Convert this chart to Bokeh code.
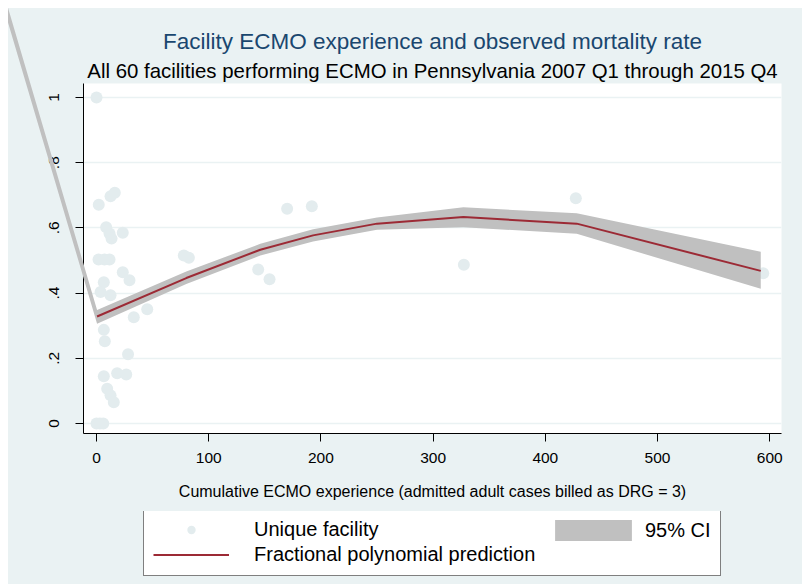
from bokeh.plotting import figure
from bokeh.layouts import column
from bokeh.models import Range1d, FixedTicker, Title, Legend, LegendItem
from bokeh.embed import file_html
from bokeh.resources import INLINE

# ---------------- data ----------------
# Facility scatter: cumulative ECMO experience vs observed mortality
fac_x = [0, 2, 12.5, 16.3, 8.6, 11.6, 13.4, 23.4, 1.8, 7.1, 11.6, 23.4, 29.4,
         6.5, 3.6, 12.5, 33.2, 45.2, 6.5, 7.4, 28.1, 6.5, 18.4, 26.5, 9.5,
         12.5, 15.4, 0, 3, 6, 77.8, 82.3, 144.1, 154.2, 169.9, 191.9, 327.4,
         427.2, 594.2]
fac_y = [1.0, 0.671, 0.697, 0.708, 0.602, 0.583, 0.567, 0.585, 0.503, 0.503,
         0.503, 0.464, 0.439, 0.433, 0.403, 0.393, 0.326, 0.350, 0.287, 0.252,
         0.212, 0.145, 0.154, 0.150, 0.106, 0.086, 0.065, 0.0, 0.0, 0.0, 0.515,
         0.508, 0.472, 0.442, 0.659, 0.666, 0.487, 0.691, 0.461]

# Fractional polynomial prediction
fit_x = [0.5, 80, 146, 193, 250, 327, 428, 592]
fit_y = [0.328, 0.446, 0.533, 0.577, 0.613, 0.633, 0.613, 0.468]

# 95% CI (first point lies far outside the plotted region)
ci_x = [-81, 0.5, 80, 146, 193, 250, 327, 428, 592]
ci_lo = [1.255, 0.306, 0.428, 0.515, 0.558, 0.594, 0.602, 0.582, 0.413]
ci_hi = [1.300, 0.348, 0.466, 0.551, 0.596, 0.632, 0.663, 0.645, 0.527]

x_ticks = [0, 100, 200, 300, 400, 500, 600]
y_ticks = [0, 0.2, 0.4, 0.6, 0.8, 1]
y_tick_labels = ["0", ".2", ".4", ".6", ".8", "1"]

title_text = "Facility ECMO experience and observed mortality rate"
subtitle_text = "All 60 facilities performing ECMO in Pennsylvania 2007 Q1 through 2015 Q4"
x_label = "Cumulative ECMO experience (admitted adult cases billed as DRG = 3)"
legend_labels = ["Unique facility", "95% CI", "Fractional polynomial prediction"]

FONT = "Liberation Sans"
BG = "#eaf2f3"
PT_COLOR = "#e3ecee"
CI_COLOR = "#c0c0c0"
FIT_COLOR = "#9c2a35"

# ---------------- main figure ----------------
p = figure(frame_width=698, frame_height=350, output_backend="svg",
           toolbar_location=None,
           x_range=Range1d(-11.6, 610.5), y_range=Range1d(-0.031, 1.043),
           min_border_left=75, min_border_right=21, min_border_top=75,
           min_border_bottom=79, background_fill_color="white",
           border_fill_color=BG)
p.outline_line_color = None

# titles (p.title is outermost, added Title sits next to the frame)
p.title.text = title_text
p.title.text_font = FONT
p.title.text_font_size = "22.5px"
p.title.text_font_style = "normal"
p.title.text_color = "#1a476f"
p.title.align = "center"
p.title.standoff = 6
p.add_layout(Title(text=subtitle_text, text_font=FONT, text_font_size="20.4px",
                   text_font_style="normal", text_color="black",
                   align="center", standoff=3), "above")

# grid
p.xgrid.grid_line_color = None
p.ygrid.ticker = FixedTicker(ticks=y_ticks)
p.ygrid.grid_line_color = BG
p.ygrid.grid_line_width = 1.5

# axes
p.xaxis.ticker = FixedTicker(ticks=x_ticks)
p.yaxis.ticker = FixedTicker(ticks=y_ticks)
p.yaxis.major_label_overrides = {t: s for t, s in zip(y_ticks, y_tick_labels)}
p.yaxis.major_label_orientation = "vertical"
p.xaxis.axis_label = x_label
for ax in (p.xaxis, p.yaxis):
    ax.axis_line_color = "black"
    ax.axis_line_width = 1
    ax.major_tick_line_color = "black"
    ax.major_tick_out = 8
    ax.major_tick_in = 0
    ax.minor_tick_line_color = None
    ax.major_label_text_font = FONT
    ax.major_label_text_font_size = "15.5px"
    ax.major_label_text_color = "black"
    ax.axis_label_text_font = FONT
    ax.axis_label_text_font_size = "16px"
    ax.axis_label_text_font_style = "normal"
    ax.axis_label_text_color = "black"
p.xaxis.major_label_standoff = 11
p.xaxis.axis_label_standoff = 17
p.yaxis.major_label_standoff = 16

# glyphs
p.scatter(fac_x, fac_y, size=12, marker="circle", fill_color=PT_COLOR,
          line_color=None)
p.varea(x=ci_x, y1=ci_lo, y2=ci_hi, fill_color=CI_COLOR, level="annotation")
p.line(fit_x, fit_y, line_color=FIT_COLOR, line_width=2, level="annotation")

# ---------------- legend strip (below the main figure) ----------------
# Same series drawn again (off-range, so invisible) to provide legend keys.
q = figure(width=794, height=73, output_backend="svg", toolbar_location=None,
           x_range=Range1d(-11.6, 610.5), y_range=Range1d(5, 6),
           x_axis_location=None, y_axis_location=None,
           min_border=0, min_border_left=0, min_border_right=0,
           min_border_top=0, min_border_bottom=0,
           background_fill_color=BG, border_fill_color=BG,
           margin=(-1, 0, 0, 0))
q.outline_line_color = None
q.grid.grid_line_color = None
q.title.visible = False

k_sc = q.scatter(fac_x, fac_y, size=12, marker="circle", fill_color=PT_COLOR,
                 line_color=None)
k_ci = q.varea(x=ci_x, y1=ci_lo, y2=ci_hi, fill_color=CI_COLOR)
k_ln = q.line(fit_x, fit_y, line_color=FIT_COLOR, line_width=2)

legend_main = Legend(items=[LegendItem(label=legend_labels[0], renderers=[k_sc]),
                            LegendItem(label=legend_labels[2], renderers=[k_ln])],
                     orientation="vertical", location=(60, 8), padding=9,
                     label_width=457, label_text_font=FONT,
                     label_text_font_size="20px", label_text_color="black",
                     glyph_width=76, glyph_height=21, label_standoff=25,
                     spacing=2, margin=0,
                     border_line_color="black", border_line_width=1,
                     background_fill_color="white", background_fill_alpha=1.0)
legend_ci = Legend(items=[LegendItem(label=legend_labels[1], renderers=[k_ci])],
                   orientation="vertical", location=(462, 41), padding=0,
                   label_width=80, label_text_font=FONT,
                   label_text_font_size="20px", label_text_color="black",
                   glyph_width=96, glyph_height=26, label_standoff=4,
                   spacing=0, margin=0,
                   border_line_color=None, background_fill_alpha=0.0)
q.add_layout(legend_main, "center")
q.add_layout(legend_ci, "center")

layout = column(p, q, spacing=0, margin=(8, 0, 0, 8),
                styles={"background-color": BG})
open("out.html", "w").write(file_html(layout, INLINE))
